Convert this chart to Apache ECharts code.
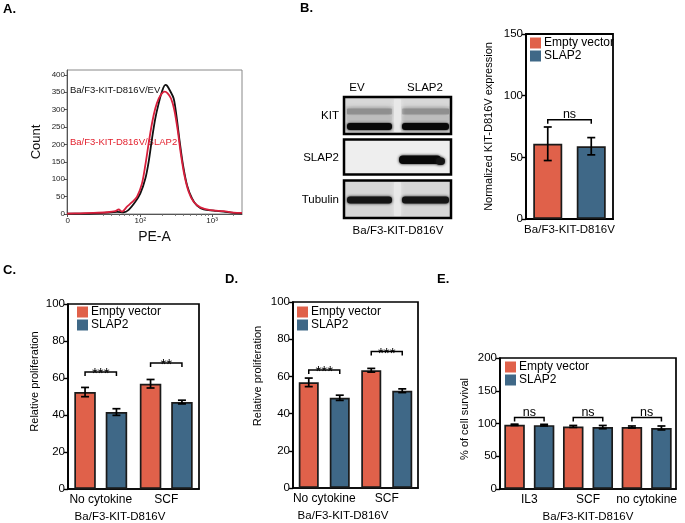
<!DOCTYPE html>
<html>
<head>
<meta charset="utf-8">
<script src="https://cdn.jsdelivr.net/npm/echarts@6.0.0/dist/echarts.min.js"></script>
<style>
html,body{margin:0;padding:0;background:#fff;}
#chart{width:685px;height:523px;}
</style>
</head>
<body>
<div id="chart"></div>
<script>
// ---------- Panel A: flow cytometry histogram (x in log-decade display units) ----------
const aTickPos = [0.986, 2, 3];
const aTickLabels = ['0', '10\u00B2', '10\u00B3'];
const aMinorPos = [1.48, 1.60, 1.70, 1.78, 1.85, 1.90, 1.95, 2.30, 2.48, 2.60, 2.70, 2.78, 2.85, 2.90, 2.95, 3.30];
const aYTicks = [0, 50, 100, 150, 200, 250, 300, 350, 400];
const evX = [0.978,1.163,1.349,1.535,1.675,1.767,1.837,1.930,2.000,2.070,2.116,2.163,2.209,2.256,2.302,2.349,2.372,2.418,2.465,2.502,2.549,2.595,2.651,2.721,2.791,2.883,3.022,3.162,3.301,3.418];
const evCount = [1,1,2,4,6,5,12,35,59,102,150,217,275,318,352,371,369,353,332,285,208,141,83,45,24,13,10,7,3,2];
const slapX = [0.978,1.163,1.349,1.535,1.651,1.698,1.744,1.814,1.884,1.954,2.023,2.070,2.116,2.163,2.209,2.256,2.302,2.339,2.381,2.428,2.474,2.521,2.567,2.614,2.674,2.743,2.837,2.976,3.162,3.301,3.418];
const slapCount = [1,2,3,5,8,13,7,21,34,50,88,141,203,261,304,332,347,352,347,332,299,241,170,112,64,35,19,11,8,4,3];

// ---------- Panel B: normalized KIT expression ----------
const bCategories = ['Ba/F3-KIT-D816V'];
const bEV = [61];
const bSLAP2 = [59];
const bEVErr = [13.6];
const bSLAP2Err = [7];
const bSig = ['ns'];
const bSigY = [80.5];

// ---------- Panel C ----------
const cCategories = ['No cytokine', 'SCF'];
const cEV = [52.4, 56.9];
const cSLAP2 = [41.6, 47.0];
const cEVErr = [2.5, 2.3];
const cSLAP2Err = [1.8, 1.0];
const cSig = ['***', '**'];
const cSigY = [63.2, 68.1];

// ---------- Panel D ----------
const dCategories = ['No cytokine', 'SCF'];
const dEV = [56.8, 63.3];
const dSLAP2 = [48.5, 52.3];
const dEVErr = [2.3, 1.0];
const dSLAP2Err = [1.4, 1.0];
const dSig = ['***', '***'];
const dSigY = [63.5, 73.4];

// ---------- Panel E ----------
const eCategories = ['IL3', 'SCF', 'no cytokine'];
const eEV = [98, 95.5, 94.7];
const eSLAP2 = [97.5, 94.5, 93.2];
const eEVErr = [1, 1.5, 1.5];
const eSLAP2Err = [1.2, 2.5, 3];
const eSig = ['ns', 'ns', 'ns'];
const eSigY = [109, 109, 109];

const FONT = '"Liberation Sans", Arial, sans-serif';
const ORANGE = '#E0614A';
const BLUE = '#3F6887';
const BORDER = '#1a1a1a';

const chart = echarts.init(document.getElementById('chart'), null, {renderer: 'canvas'});

function errRender(bw, gap) {
  return function (params, api) {
    const cat = api.value(0), v = api.value(1), e = api.value(2), side = api.value(3);
    const c = api.coord([cat, v]);
    const x = c[0] + side * bw * (1 + gap) / 2;
    const top = api.coord([cat, v + e])[1];
    const bot = api.coord([cat, v - e])[1];
    const st = {stroke: '#000', lineWidth: 1.7};
    return {type: 'group', children: [
      {type: 'line', shape: {x1: x, y1: top, x2: x, y2: bot}, style: st},
      {type: 'line', shape: {x1: x - 4, y1: top, x2: x + 4, y2: top}, style: st},
      {type: 'line', shape: {x1: x - 4, y1: bot, x2: x + 4, y2: bot}, style: st}
    ]};
  };
}
function sigRender(bw, gap, labels) {
  return function (params, api) {
    const cat = api.value(0), y = api.value(1);
    const c = api.coord([cat, y]);
    const off = bw * (1 + gap) / 2;
    const x1 = c[0] - off, x2 = c[0] + off, yy = c[1];
    const lab = labels[params.dataIndex];
    const star = lab.indexOf('*') >= 0;
    return {type: 'group', children: [
      {type: 'polyline', shape: {points: [[x1, yy + 4], [x1, yy], [x2, yy], [x2, yy + 4]]},
        style: {stroke: '#000', lineWidth: 1.5, fill: null}},
      {type: 'text', style: {text: lab, x: c[0], y: star ? yy + 2 : yy + 1,
        align: 'center', verticalAlign: star ? 'middle' : 'bottom',
        fontSize: star ? 15 : 12.5, fontFamily: FONT, fill: '#000'}}
    ]};
  };
}
function errData(ev, evErr, sl, slErr) {
  const out = [];
  for (let i = 0; i < ev.length; i++) {
    out.push([i, ev[i], evErr[i], -1]);
    out.push([i, sl[i], slErr[i], 1]);
  }
  return out;
}
function sigData(sy) { return sy.map((y, i) => [i, y]); }

function barPanel(idx, ev, evErr, sl, slErr, sig, sigY, bw, gap) {
  return [
    {name: 'Empty vector', type: 'bar', xAxisIndex: idx, yAxisIndex: idx, data: ev,
      barWidth: bw, barGap: (gap * 100) + '%', itemStyle: {color: ORANGE, borderColor: BORDER, borderWidth: 1.7}},
    {name: 'SLAP2', type: 'bar', xAxisIndex: idx, yAxisIndex: idx, data: sl,
      barWidth: bw, barGap: (gap * 100) + '%', itemStyle: {color: BLUE, borderColor: BORDER, borderWidth: 1.7}},
    {type: 'custom', xAxisIndex: idx, yAxisIndex: idx, z: 5, silent: true,
      renderItem: errRender(bw, gap), data: errData(ev, evErr, sl, slErr)},
    {type: 'custom', xAxisIndex: idx, yAxisIndex: idx, z: 5, silent: true,
      renderItem: sigRender(bw, gap, sig), data: sigData(sigY)}
  ];
}

function catAxis(grid, cats, labelSize, name, namePad) {
  const ax = {type: 'category', gridIndex: grid, data: cats,
    axisLine: {lineStyle: {color: '#000', width: 1.7}},
    axisTick: {show: false},
    axisLabel: {color: '#000', fontSize: labelSize, fontFamily: FONT, margin: 5, interval: 0},
    splitLine: {show: false}};
  if (name) {
    ax.name = name; ax.nameLocation = 'middle'; ax.nameGap = 22;
    ax.nameTextStyle = {color: '#000', fontSize: 11.5, fontFamily: FONT, padding: namePad || 0};
  }
  return ax;
}
function valAxis(grid, max, interval, name, nameGap, namePad) {
  return {type: 'value', gridIndex: grid, min: 0, max: max, interval: interval,
    axisLine: {show: true, lineStyle: {color: '#000', width: 1.7}},
    axisTick: {show: true, length: 4, lineStyle: {color: '#000', width: 1.4}},
    axisLabel: {color: '#000', fontSize: 11.5, fontFamily: FONT, margin: 3},
    splitLine: {show: false},
    name: name, nameLocation: 'middle', nameGap: nameGap,
    nameTextStyle: {color: '#000', fontSize: 11, fontFamily: FONT, padding: namePad || 0}};
}
function gridBox(left, top, width, height, color, bw) {
  return {left: left, top: top, width: width, height: height, show: true,
    borderColor: color, borderWidth: bw, backgroundColor: 'transparent', containLabel: false, outerBoundsMode: 'none'};
}
function legendAt(left, top) {
  return {data: ['Empty vector', 'SLAP2'], orient: 'vertical', left: left, top: top,
    itemWidth: 11, itemHeight: 11, itemGap: 1, padding: 0, icon: 'rect',
    itemStyle: {borderWidth: 0},
    textStyle: {color: '#000', fontSize: 12, fontFamily: FONT, lineHeight: 11, padding: [0, 0, 0, -2]},
    selectedMode: false};
}

function txt(text, x, y, opt) {
  return Object.assign({type: 'text', silent: true, style: Object.assign({text: text, x: x, y: y,
    fill: '#000', fontSize: 11, fontFamily: FONT, align: 'left', verticalAlign: 'middle'}, opt || {})});
}
function rect(x, y, w, h, style) {
  return {type: 'rect', silent: true, shape: {x: x, y: y, width: w, height: h, r: style.r || 0}, style: style};
}
function blur(x, y, w, h, color, b, r) {
  return {type: 'rect', silent: true, shape: {x: x, y: y, width: w, height: h, r: r || 1},
    style: {fill: color, shadowBlur: b, shadowColor: color}};
}

const blot = [
  // KIT box
  rect(344, 97, 107, 37, {fill: '#cfcfcf'}),
  blur(346, 99, 105, 7, '#d8d8d8', 4),
  blur(347, 108.5, 45, 6, '#8f8f8f', 5),
  blur(402, 108.5, 47, 6, '#8f8f8f', 5),
  blur(347, 116, 45, 5, '#bdbdbd', 3),
  blur(402, 116, 47, 5, '#bdbdbd', 3),
  blur(394, 99, 7, 33, '#e8e8e8', 4),
  blur(347, 123, 45, 7, '#080808', 3, 3),
  blur(402, 123, 47, 7, '#080808', 3, 3),
  rect(344, 97, 107, 37, {fill: null, stroke: '#000', lineWidth: 2.5}),
  // SLAP2 box
  rect(344, 139.5, 107, 35, {fill: '#eeeeee'}),
  blur(399, 155.5, 42, 8.5, '#080808', 3, 4),
  blur(436, 157.5, 9, 7.5, '#141414', 3, 4),
  rect(344, 139.5, 107, 35, {fill: null, stroke: '#000', lineWidth: 2.5}),
  // Tubulin box
  rect(344, 180.5, 107, 37.5, {fill: '#d6d6d6'}),
  blur(394, 182, 7, 34, '#e8e8e8', 4),
  blur(347, 196.5, 45, 7, '#141414', 3, 3),
  blur(402, 196.5, 47, 7, '#141414', 3, 3),
  rect(344, 180.5, 107, 37.5, {fill: null, stroke: '#000', lineWidth: 2.5}),
  // blot labels
  txt('EV', 357, 88, {align: 'center', fontSize: 11.5}),
  txt('SLAP2', 425, 88, {align: 'center', fontSize: 11.5}),
  txt('KIT', 339, 116, {align: 'right', fontSize: 11.5}),
  txt('SLAP2', 339, 158, {align: 'right', fontSize: 11.5}),
  txt('Tubulin', 339, 200, {align: 'right', fontSize: 11.5}),
  txt('Ba/F3-KIT-D816V', 398, 231, {align: 'center', fontSize: 11.5})
];

const letters = [
  txt('A.', 3, 9, {fontSize: 13, fontWeight: 'bold'}),
  txt('B.', 300, 8, {fontSize: 13, fontWeight: 'bold'}),
  txt('C.', 3, 270, {fontSize: 13, fontWeight: 'bold'}),
  txt('D.', 225, 279, {fontSize: 13, fontWeight: 'bold'}),
  txt('E.', 437, 279, {fontSize: 13, fontWeight: 'bold'})
];
const aNotes = [
  txt('Ba/F3-KIT-D816V/EV', 70, 90, {fontSize: 9.5, fill: '#111'}),
  txt('Ba/F3-KIT-D816V/SLAP2', 70, 142, {fontSize: 9.5, fill: '#e3222f'})
];

const option = {
  animation: false,
  backgroundColor: '#fff',
  textStyle: {fontFamily: FONT},
  grid: [
    gridBox(67, 70, 175, 144, '#888', 1),
    gridBox(526, 34, 87, 185, '#000', 1.8),
    gridBox(68, 304, 131, 185, '#000', 1.7),
    gridBox(293, 302, 125, 186, '#000', 1.7),
    gridBox(500, 358, 176, 131, '#000', 1.7)
  ],
  xAxis: [
    {type: 'value', gridIndex: 0, min: 0.977, max: 3.418, position: 'bottom',
      axisLine: {lineStyle: {color: '#555', width: 1}},
      axisTick: {customValues: aTickPos, length: 3, lineStyle: {color: '#555'}},
      axisLabel: {customValues: aTickPos, fontSize: 8, color: '#222', fontFamily: FONT, margin: 3,
        formatter: function (v) { let k = 0; aTickPos.forEach((p, i) => { if (Math.abs(p - v) < 1e-6) k = i; }); return aTickLabels[k]; }},
      splitLine: {show: false},
      name: 'PE-A', nameLocation: 'middle', nameGap: 16,
      nameTextStyle: {fontSize: 14, color: '#111', fontFamily: FONT}},
    {type: 'value', gridIndex: 0, min: 0.977, max: 3.418, position: 'bottom',
      axisLine: {show: false},
      axisTick: {customValues: aMinorPos, length: 1.8, lineStyle: {color: '#666'}},
      axisLabel: {show: false}, splitLine: {show: false}},
    catAxis(1, bCategories, 11.5),
    catAxis(2, cCategories, 12, 'Ba/F3-KIT-D816V', [0, 27, 0, 0]),
    catAxis(3, dCategories, 12, 'Ba/F3-KIT-D816V', [0, 25, 0, 0]),
    catAxis(4, eCategories, 12, 'Ba/F3-KIT-D816V')
  ],
  yAxis: [
    {type: 'value', gridIndex: 0, min: 0, max: 414,
      axisLine: {show: true, lineStyle: {color: '#555', width: 1}},
      axisTick: {show: true, customValues: aYTicks, length: 3, lineStyle: {color: '#555'}},
      axisLabel: {customValues: aYTicks, fontSize: 8, color: '#222', fontFamily: FONT, margin: 2},
      splitLine: {show: false},
      name: 'Count', nameLocation: 'middle', nameGap: 24,
      nameTextStyle: {fontSize: 13, color: '#111', fontFamily: FONT}},
    valAxis(1, 150, 50, 'Normalized KIT-D816V expression', 32),
    valAxis(2, 100, 20, 'Relative proliferation', 28, [0, 0, 0, 30]),
    valAxis(3, 100, 20, 'Relative proliferation', 30, [0, 0, 0, 38]),
    valAxis(4, 200, 50, '% of cell survival', 30, [0, 0, 0, 9])
  ],
  legend: [legendAt(530, 37), legendAt(77, 306), legendAt(297, 306), legendAt(505, 361)],
  series: [
    {name: 'EV histogram', type: 'line', xAxisIndex: 0, yAxisIndex: 0, symbol: 'none', smooth: 0.3,
      data: evX.map((x, i) => [x, evCount[i]]), lineStyle: {color: '#111', width: 1.8}, z: 3},
    {name: 'SLAP2 histogram', type: 'line', xAxisIndex: 0, yAxisIndex: 0, symbol: 'none', smooth: 0.3,
      data: slapX.map((x, i) => [x, slapCount[i]]), lineStyle: {color: '#d81f3c', width: 1.8}, z: 4}
  ]
    .concat(barPanel(2, bEV, bEVErr, bSLAP2, bSLAP2Err, bSig, bSigY, 29, 0.5))
    .concat(barPanel(3, cEV, cEVErr, cSLAP2, cSLAP2Err, cSig, cSigY, 21.5, 0.46))
    .concat(barPanel(4, dEV, dEVErr, dSLAP2, dSLAP2Err, dSig, dSigY, 20, 0.55))
    .concat(barPanel(5, eEV, eEVErr, eSLAP2, eSLAP2Err, eSig, eSigY, 20.5, 0.44))
    .map(function (s) {
      // bar panels: x axes 2..5 pair with y axes 1..4
      if (s.type !== 'line') { s.yAxisIndex = s.xAxisIndex - 1; }
      return s;
    }),
  graphic: {elements: blot.concat(letters).concat(aNotes)}
};

chart.setOption(option);
</script>
</body>
</html>
